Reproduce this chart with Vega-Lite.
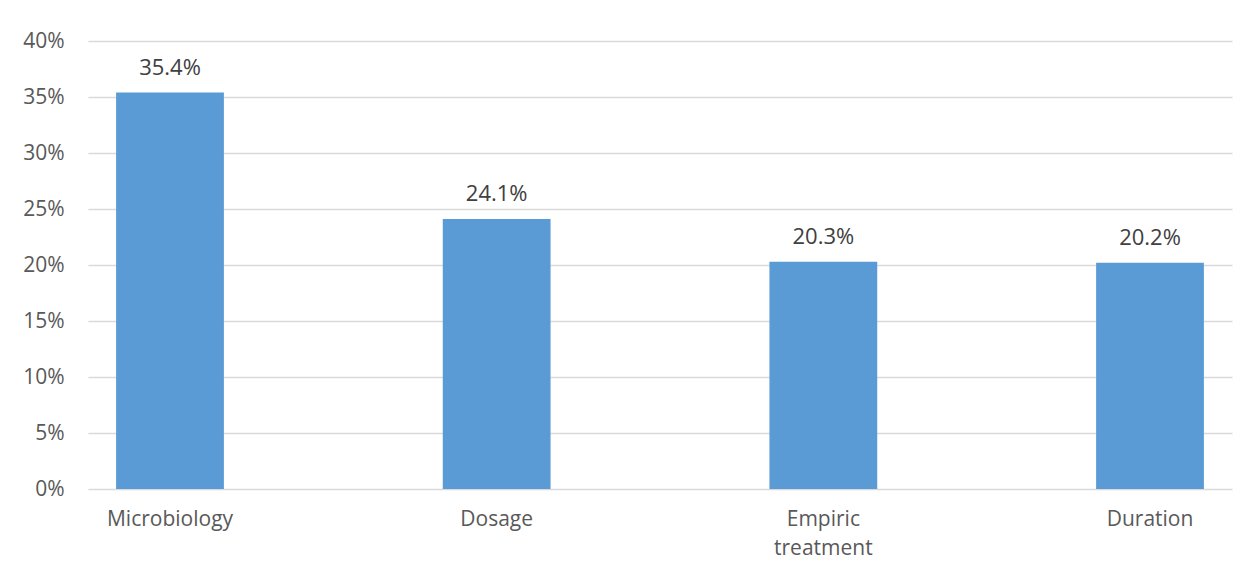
{
  "$schema": "https://vega.github.io/schema/vega-lite/v6.json",
  "autosize": {"type": "none"},
  "width": 1144,
  "height": 448,
  "padding": {"left": 88, "top": 41, "right": 24, "bottom": 84},
  "background": "white",
  "config": {
    "view": {"stroke": null},
    "font": "Open Sans",
    "axis": {"labelFont": "Open Sans", "labelColor": "#595959", "domain": false, "ticks": false}
  },
  "data": {
    "values": [
      {"category": "Microbiology", "value": 0.354},
      {"category": "Dosage", "value": 0.241},
      {"category": "Empiric treatment", "value": 0.203},
      {"category": "Duration", "value": 0.202}
    ]
  },
  "encoding": {
    "x": {
      "field": "category",
      "type": "nominal",
      "sort": null,
      "scale": {"paddingInner": 0.67, "paddingOuter": 0.086},
      "axis": {
        "title": null,
        "labelAngle": 0,
        "labelFontSize": 21,
        "labelPadding": 19,
        "labelLineHeight": 29,
        "labelExpr": "datum.label == 'Empiric treatment' ? ['Empiric', 'treatment'] : datum.label"
      }
    },
    "y": {
      "field": "value",
      "type": "quantitative",
      "scale": {"domain": [0, 0.4]},
      "axis": {
        "title": null,
        "format": ".0%",
        "values": [0, 0.05, 0.1, 0.15, 0.2, 0.25, 0.3, 0.35, 0.4],
        "labelFontSize": 21,
        "labelPadding": 24,
        "gridColor": "#d9d9d9",
        "gridWidth": 1.5
      }
    }
  },
  "layer": [
    {"mark": {"type": "bar", "color": "#5b9bd5"}},
    {
      "mark": {"type": "text", "dy": -25, "fontSize": 22, "color": "#404040", "font": "Open Sans"},
      "encoding": {"text": {"field": "value", "type": "quantitative", "format": ".1%"}}
    }
  ]
}
